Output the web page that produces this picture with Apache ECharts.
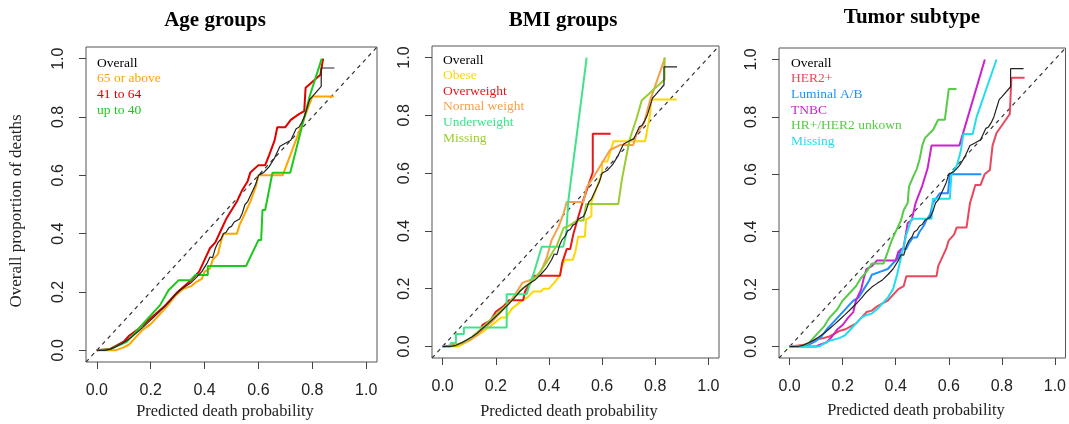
<!DOCTYPE html>
<html>
<head>
<meta charset="utf-8">
<script src="https://cdn.jsdelivr.net/npm/echarts@6/dist/echarts.min.js"></script>
<style>
html, body { margin: 0; padding: 0; background: #fff; }
#chart { width: 1069px; height: 424px; }
</style>
</head>
<body>
<div id="chart"></div>
<script>
// tick positions shared by both axes of every panel
var ticks = [0, 0.2, 0.4, 0.6, 0.8, 1.0];
// identity line (perfect calibration)
var diagonal = [[-0.04, -0.04], [1.04, 1.04]];

// overall curve, same in the three panels
var overall = [[0,0],[0.03,0],[0.05,0.004],[0.07,0.012],[0.09,0.022],[0.11,0.033],[0.13,0.046],[0.15,0.062],[0.17,0.078],[0.19,0.095],[0.21,0.112],[0.23,0.13],[0.25,0.148],[0.27,0.168],[0.29,0.19],[0.31,0.207],[0.33,0.22],[0.35,0.232],[0.37,0.25],[0.39,0.27],[0.41,0.3],[0.42,0.32],[0.43,0.318],[0.44,0.35],[0.45,0.37],[0.46,0.38],[0.47,0.4],[0.48,0.405],[0.49,0.42],[0.5,0.425],[0.51,0.44],[0.52,0.445],[0.53,0.45],[0.54,0.47],[0.55,0.5],[0.56,0.51],[0.57,0.53],[0.58,0.55],[0.59,0.57],[0.6,0.6],[0.61,0.605],[0.62,0.61],[0.63,0.62],[0.64,0.63],[0.65,0.645],[0.66,0.66],[0.67,0.68],[0.68,0.7],[0.69,0.705],[0.7,0.71],[0.71,0.715],[0.72,0.72],[0.73,0.74],[0.74,0.76],[0.75,0.765],[0.76,0.78],[0.77,0.8],[0.78,0.83],[0.79,0.86],[0.8,0.87],[0.833,0.905],[0.833,0.968],[0.882,0.968]];

// Age groups
var age65 = [[0,0],[0.07,0],[0.1,0.01],[0.12,0.02],[0.14,0.04],[0.17,0.07],[0.2,0.09],[0.23,0.12],[0.26,0.15],[0.29,0.185],[0.32,0.21],[0.35,0.22],[0.37,0.235],[0.39,0.245],[0.4,0.27],[0.42,0.28],[0.43,0.31],[0.45,0.33],[0.46,0.37],[0.47,0.4],[0.52,0.4],[0.53,0.43],[0.55,0.47],[0.57,0.51],[0.59,0.56],[0.6,0.6],[0.69,0.6],[0.8,0.87],[0.88,0.87]];
var age41 = [[0,0],[0.05,0.005],[0.1,0.03],[0.12,0.05],[0.15,0.07],[0.2,0.11],[0.25,0.15],[0.3,0.2],[0.35,0.24],[0.38,0.27],[0.4,0.31],[0.42,0.35],[0.44,0.37],[0.46,0.41],[0.48,0.45],[0.5,0.48],[0.52,0.51],[0.54,0.55],[0.56,0.58],[0.57,0.61],[0.6,0.635],[0.625,0.635],[0.64,0.67],[0.66,0.72],[0.67,0.765],[0.7,0.765],[0.72,0.79],[0.75,0.81],[0.77,0.82],[0.775,0.9],[0.83,0.945],[0.84,1.0]];
var age40 = [[0,0],[0.05,0.004],[0.111,0.029],[0.161,0.08],[0.2,0.12],[0.235,0.155],[0.266,0.206],[0.285,0.223],[0.303,0.24],[0.347,0.24],[0.365,0.258],[0.412,0.258],[0.412,0.289],[0.554,0.289],[0.6,0.378],[0.61,0.378],[0.615,0.481],[0.625,0.481],[0.652,0.609],[0.718,0.609],[0.79,0.871],[0.835,1.0]];

// BMI groups
var obese = [[0,0],[0.06,0],[0.1,0.02],[0.15,0.05],[0.18,0.07],[0.22,0.1],[0.24,0.1],[0.26,0.13],[0.3,0.16],[0.32,0.17],[0.34,0.19],[0.37,0.19],[0.38,0.2],[0.4,0.2],[0.42,0.22],[0.44,0.245],[0.45,0.28],[0.46,0.3],[0.49,0.3],[0.5,0.33],[0.51,0.38],[0.535,0.38],[0.54,0.44],[0.56,0.45],[0.56,0.5],[0.58,0.55],[0.6,0.6],[0.6,0.64],[0.62,0.64],[0.643,0.71],[0.762,0.71],[0.78,0.8],[0.785,0.855],[0.881,0.855]];
var overweight = [[0,0],[0.05,0.005],[0.08,0.015],[0.11,0.03],[0.14,0.05],[0.15,0.075],[0.18,0.09],[0.2,0.12],[0.23,0.14],[0.25,0.16],[0.278,0.16],[0.303,0.16],[0.31,0.19],[0.33,0.22],[0.347,0.245],[0.442,0.245],[0.45,0.29],[0.467,0.337],[0.48,0.337],[0.492,0.389],[0.51,0.447],[0.529,0.505],[0.565,0.603],[0.565,0.736],[0.632,0.736]];
var normalWeight = [[0,0],[0.04,0.003],[0.07,0.01],[0.1,0.02],[0.13,0.04],[0.16,0.065],[0.19,0.09],[0.22,0.12],[0.25,0.15],[0.28,0.19],[0.3,0.22],[0.33,0.23],[0.35,0.24],[0.37,0.26],[0.392,0.308],[0.41,0.368],[0.436,0.414],[0.455,0.46],[0.467,0.5],[0.53,0.5],[0.542,0.55],[0.57,0.59],[0.59,0.62],[0.605,0.643],[0.63,0.68],[0.667,0.697],[0.717,0.697],[0.73,0.736],[0.757,0.772],[0.78,0.85],[0.837,1.0]];
var underweight = [[0,0],[0.03,0],[0.03,0.012],[0.05,0.012],[0.05,0.043],[0.08,0.043],[0.08,0.066],[0.241,0.066],[0.241,0.181],[0.316,0.181],[0.33,0.22],[0.345,0.26],[0.373,0.345],[0.454,0.345],[0.465,0.39],[0.473,0.505],[0.542,1.0]];
var bmiMissing = [[0,0],[0.05,0.003],[0.1,0.025],[0.15,0.065],[0.2,0.11],[0.25,0.15],[0.3,0.2],[0.33,0.22],[0.36,0.25],[0.39,0.29],[0.41,0.32],[0.43,0.35],[0.455,0.41],[0.48,0.42],[0.505,0.436],[0.53,0.436],[0.54,0.493],[0.661,0.493],[0.675,0.58],[0.693,0.666],[0.705,0.72],[0.73,0.79],[0.749,0.851],[0.835,0.924],[0.835,1.0]];

// Tumor subtype
var her2 = [[0,0],[0.05,0.005],[0.08,0.015],[0.1,0.025],[0.13,0.03],[0.15,0.035],[0.17,0.045],[0.19,0.055],[0.21,0.06],[0.23,0.07],[0.25,0.08],[0.27,0.1],[0.29,0.12],[0.31,0.125],[0.33,0.14],[0.35,0.15],[0.37,0.16],[0.39,0.18],[0.41,0.2],[0.43,0.21],[0.44,0.245],[0.554,0.245],[0.56,0.28],[0.57,0.3],[0.59,0.34],[0.6,0.37],[0.62,0.39],[0.63,0.415],[0.667,0.415],[0.68,0.5],[0.69,0.53],[0.7,0.563],[0.72,0.563],[0.735,0.6],[0.755,0.615],[0.765,0.7],[0.78,0.744],[0.8,0.77],[0.83,0.81],[0.836,0.936],[0.886,0.936]];
var luminal = [[0,0],[0.06,0.002],[0.08,0.01],[0.1,0.02],[0.12,0.035],[0.14,0.06],[0.16,0.08],[0.18,0.1],[0.2,0.12],[0.22,0.14],[0.24,0.16],[0.26,0.17],[0.28,0.2],[0.3,0.23],[0.31,0.25],[0.34,0.26],[0.37,0.27],[0.39,0.29],[0.41,0.31],[0.42,0.34],[0.44,0.34],[0.45,0.36],[0.465,0.38],[0.48,0.38],[0.49,0.4],[0.505,0.42],[0.515,0.44],[0.53,0.46],[0.54,0.5],[0.566,0.534],[0.597,0.534],[0.604,0.6],[0.723,0.6]];
var tnbc = [[0,0],[0.1,0],[0.11,0.005],[0.14,0.015],[0.16,0.035],[0.18,0.06],[0.2,0.075],[0.22,0.1],[0.24,0.12],[0.25,0.16],[0.27,0.2],[0.28,0.24],[0.29,0.27],[0.31,0.28],[0.33,0.3],[0.4,0.3],[0.41,0.33],[0.43,0.345],[0.445,0.43],[0.46,0.44],[0.475,0.5],[0.5,0.56],[0.52,0.62],[0.535,0.7],[0.64,0.7],[0.736,1.0]];
var hrUnknown = [[0,0],[0.05,0.003],[0.07,0.01],[0.09,0.03],[0.11,0.05],[0.13,0.07],[0.15,0.1],[0.18,0.13],[0.2,0.16],[0.23,0.19],[0.25,0.21],[0.27,0.24],[0.29,0.26],[0.31,0.289],[0.354,0.289],[0.37,0.33],[0.385,0.37],[0.4,0.4],[0.42,0.44],[0.43,0.475],[0.445,0.5],[0.45,0.557],[0.466,0.592],[0.48,0.62],[0.491,0.656],[0.5,0.7],[0.51,0.726],[0.541,0.755],[0.56,0.79],[0.585,0.79],[0.6,0.897],[0.629,0.897]];
var subMissing = [[0,0],[0.11,0],[0.13,0.01],[0.15,0.02],[0.17,0.025],[0.19,0.03],[0.21,0.04],[0.23,0.06],[0.25,0.08],[0.27,0.1],[0.29,0.11],[0.31,0.115],[0.33,0.13],[0.35,0.15],[0.37,0.17],[0.39,0.2],[0.405,0.25],[0.42,0.31],[0.44,0.39],[0.46,0.445],[0.535,0.445],[0.54,0.515],[0.604,0.515],[0.61,0.6],[0.63,0.63],[0.645,0.68],[0.655,0.74],[0.69,0.74],[0.705,0.8],[0.78,1.0]];

var panels = [
    {
        title: 'Age groups', titleX: 215, titleY: 21, xTitleX: 225, xTitleY: 412,
        grid: { left: 86, top: 47, width: 291, height: 315 },
        legendPos: { left: 92, top: 55.5 },
        groups: [
            ['Overall', overall, '#000000'],
            ['65 or above', age65, '#FFA500'],
            ['41 to 64', age41, '#E00000'],
            ['up to 40', age40, '#1DC81D']
        ]
    },
    {
        title: 'BMI groups', titleX: 563, titleY: 20.5, xTitleX: 569, xTitleY: 412,
        grid: { left: 432, top: 46, width: 287, height: 312 },
        legendPos: { left: 438, top: 52.2 },
        groups: [
            ['Overall', overall, '#000000'],
            ['Obese', obese, '#FFD700'],
            ['Overweight', overweight, '#E31A1C'],
            ['Normal weight', normalWeight, '#F5A04A'],
            ['Underweight', underweight, '#40E38A'],
            ['Missing', bmiMissing, '#9ACD32']
        ]
    },
    {
        title: 'Tumor subtype', titleX: 912, titleY: 17.5, xTitleX: 916, xTitleY: 411,
        grid: { left: 779, top: 48, width: 287, height: 310 },
        legendPos: { left: 786, top: 55.5 },
        groups: [
            ['Overall', overall, '#000000'],
            ['HER2+', her2, '#E8485E'],
            ['Luminal A/B', luminal, '#1E90FF'],
            ['TNBC', tnbc, '#CC22CC'],
            ['HR+/HER2 unkown', hrUnknown, '#55CC44'],
            ['Missing', subMissing, '#22DDEE']
        ]
    }
];

var grids = [], xAxes = [], yAxes = [], series = [], legends = [], graphics = [];

panels.forEach(function (p, i) {
    grids.push({
        left: p.grid.left, top: p.grid.top, width: p.grid.width, height: p.grid.height,
        show: true, borderColor: '#555', borderWidth: 1, backgroundColor: 'transparent'
    });
    xAxes.push({
        gridIndex: i, type: 'value', min: -0.04, max: 1.04,
        splitLine: { show: false }, axisLine: { show: false, onZero: false },
        axisTick: { show: true, inside: false, length: 7, customValues: ticks, lineStyle: { color: '#444' } },
        axisLabel: {
            customValues: ticks, margin: 21, color: '#222', fontSize: 16, fontFamily: 'Liberation Sans',
            formatter: function (v) { return v.toFixed(1); }
        }
    });
    yAxes.push({
        gridIndex: i, type: 'value', min: -0.04, max: 1.04,
        splitLine: { show: false }, axisLine: { show: false, onZero: false },
        axisTick: { show: true, inside: false, length: 7, customValues: ticks, lineStyle: { color: '#444' } },
        axisLabel: {
            customValues: ticks, margin: 19.5, rotate: 90, color: '#222', fontSize: 16, fontFamily: 'Liberation Sans',
            formatter: function (v) { return v.toFixed(1); }
        }
    });

    series.push({
        type: 'line', name: 'diagonal', xAxisIndex: i, yAxisIndex: i, data: diagonal,
        symbol: 'none', silent: true, z: 1,
        lineStyle: { color: '#333', width: 1.2, type: [4, 4] }
    });
    // coloured groups first, overall drawn on top
    p.groups.slice(1).forEach(function (g) {
        series.push({
            type: 'line', name: g[0], xAxisIndex: i, yAxisIndex: i, data: g[1],
            symbol: 'none', z: 2, color: g[2],
            lineStyle: { color: g[2], width: 2 }
        });
    });
    series.push({
        type: 'line', name: 'Overall', xAxisIndex: i, yAxisIndex: i, data: p.groups[0][1],
        symbol: 'none', z: 3, color: '#222',
        lineStyle: { color: '#222', width: 1.2 }
    });

    legends.push({
        left: p.legendPos.left, top: p.legendPos.top, orient: 'vertical',
        icon: 'none', itemWidth: 0, itemHeight: 0, itemGap: 0, padding: 0,
        selectedMode: false,
        textStyle: { fontFamily: 'Liberation Serif', fontSize: 13.5, lineHeight: 15.6 },
        data: p.groups.map(function (g) { return { name: g[0], textStyle: { color: g[2] } }; })
    });

    graphics.push({
        type: 'text', x: p.titleX, y: p.titleY,
        style: { text: p.title, font: 'bold 21px "Liberation Serif"', fill: '#000', align: 'center', verticalAlign: 'middle' }
    });
    graphics.push({
        type: 'text', x: p.xTitleX, y: p.xTitleY,
        style: { text: 'Predicted death probability', font: '16.4px "Liberation Serif"', fill: '#222', align: 'center', verticalAlign: 'middle' }
    });
});

graphics.push({
    type: 'text', x: 17, y: 211, rotation: Math.PI / 2,
    style: { text: 'Overall proportion of deaths', font: '17px "Liberation Serif"', fill: '#222', align: 'center', verticalAlign: 'middle' }
});

var chart = echarts.init(document.getElementById('chart'));
chart.setOption({
    animation: false,
    backgroundColor: '#fff',
    grid: grids,
    xAxis: xAxes,
    yAxis: yAxes,
    legend: legends,
    graphic: graphics,
    series: series
});
</script>
</body>
</html>
